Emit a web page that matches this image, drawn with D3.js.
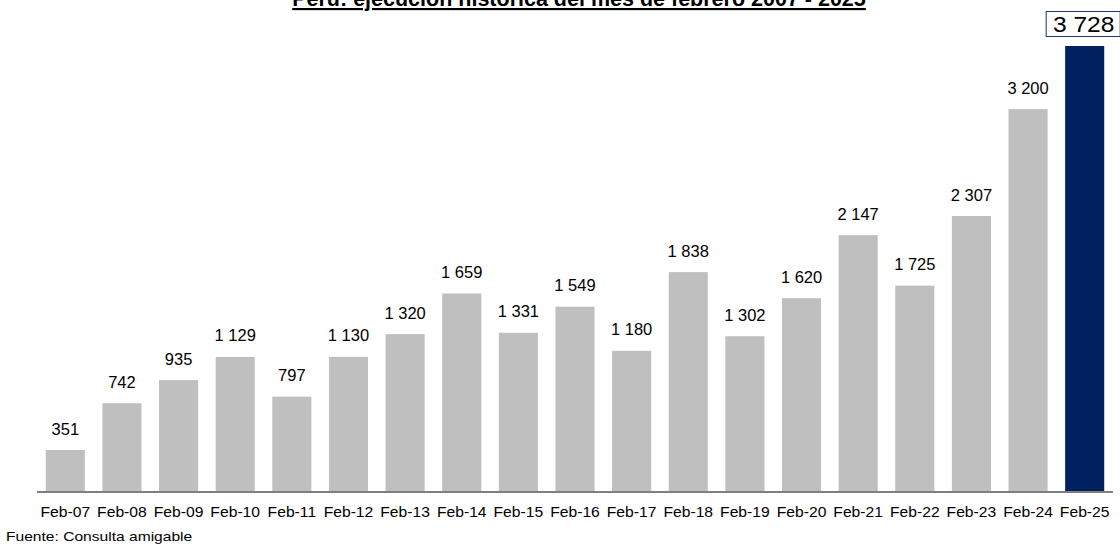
<!DOCTYPE html>
<html>
<head>
  <meta charset="utf-8">
  <title>Perú: ejecución histórica del mes de febrero</title>
  <script src="https://d3js.org/d3.v7.min.js"></script>
  <style>
    body { margin: 0; background: #fff; font-family: Arial, "Liberation Sans", sans-serif; }
  </style>
</head>
<body>
  <div id="chart"></div>
  <script>
    // data
    const categories = ["Feb-07", "Feb-08", "Feb-09", "Feb-10", "Feb-11", "Feb-12", "Feb-13", "Feb-14", "Feb-15", "Feb-16",
                        "Feb-17", "Feb-18", "Feb-19", "Feb-20", "Feb-21", "Feb-22", "Feb-23", "Feb-24", "Feb-25"];
    const values = [351, 742, 935, 1129, 797, 1130, 1320, 1659, 1331, 1549, 1180, 1838, 1302, 1620, 2147, 1725, 2307, 3200, 3728];
    const title = "Perú: ejecución histórica del mes de febrero 2007 - 2025";
    const source = "Fuente: Consulta amigable";

    const width = 1120, height = 544;
    const margin = { top: 46, right: 7, bottom: 52, left: 37 };
    const font = "Arial, 'Liberation Sans', sans-serif";

    const svg = d3.select("#chart").append("svg")
      .attr("width", width)
      .attr("height", height)
      .style("font-family", font);

    const x = d3.scaleBand()
      .domain(categories)
      .range([margin.left, width - margin.right])
      .paddingInner(0.31)
      .paddingOuter(0.155);

    const y = d3.scaleLinear()
      .domain([0, d3.max(values)])
      .range([height - margin.bottom, margin.top]);

    const fmt = v => d3.format(",")(v).replace(/,/g, " ");
    const last = categories.length - 1;

    const data = categories.map((c, i) => ({ cat: c, value: values[i], last: i === last }));

    // bars
    svg.selectAll(".bar")
      .data(data)
      .enter().append("rect")
      .attr("class", "bar")
      .attr("x", d => x(d.cat))
      .attr("y", d => y(d.value))
      .attr("width", x.bandwidth())
      .attr("height", d => y(0) - y(d.value))
      .attr("fill", d => d.last ? "#002060" : "#bfbfbf");

    // x axis
    const xAxis = svg.append("g")
      .attr("transform", `translate(0,${y(0)})`)
      .call(d3.axisBottom(x).tickSize(0));
    xAxis.select(".domain").attr("stroke", "#7f7f7f").attr("stroke-width", 2)
      .attr("d", `M${margin.left},0H${width - margin.right}`);
    xAxis.selectAll("text")
      .attr("font-family", font)
      .attr("font-size", 14)
      .attr("fill", "#000")
      .attr("dy", null)
      .attr("y", 25)
      .attr("transform", "scale(1.12,1)");

    // value labels
    svg.selectAll(".lbl")
      .data(data.filter(d => !d.last))
      .enter().append("text")
      .attr("class", "lbl")
      .attr("x", d => x(d.cat) + x.bandwidth() / 2)
      .attr("y", d => y(d.value) - 15.5)
      .attr("text-anchor", "middle")
      .attr("font-size", 16.5)
      .attr("fill", "#000")
      .text(d => fmt(d.value));

    // highlighted last label in a box
    const ld = data[last];
    const lx = x(ld.cat) + x.bandwidth() / 2;
    const boxed = svg.append("g");
    boxed.append("rect")
      .attr("x", lx - 38.5)
      .attr("y", 11.5)
      .attr("width", 74)
      .attr("height", 25)
      .attr("fill", "#fff")
      .attr("stroke", "#1f3864")
      .attr("stroke-width", 1);
    boxed.append("text")
      .attr("transform", `translate(${lx - 1},${32}) scale(1.12,1)`)
      .attr("text-anchor", "middle")
      .attr("font-size", 22)
      .attr("fill", "#000")
      .text(fmt(ld.value));

    // title (cut off at top in the original)
    svg.append("text")
      .attr("x", 579)
      .attr("y", 6)
      .attr("text-anchor", "middle")
      .attr("font-size", 21.5)
      .attr("font-weight", "bold")
      .attr("text-decoration", "underline")
      .text(title);

    svg.append("text")
      .attr("transform", "translate(6,541) scale(1.2,1)")
      .attr("font-size", 13)
      .attr("fill", "#000")
      .text(source);
  </script>
</body>
</html>
